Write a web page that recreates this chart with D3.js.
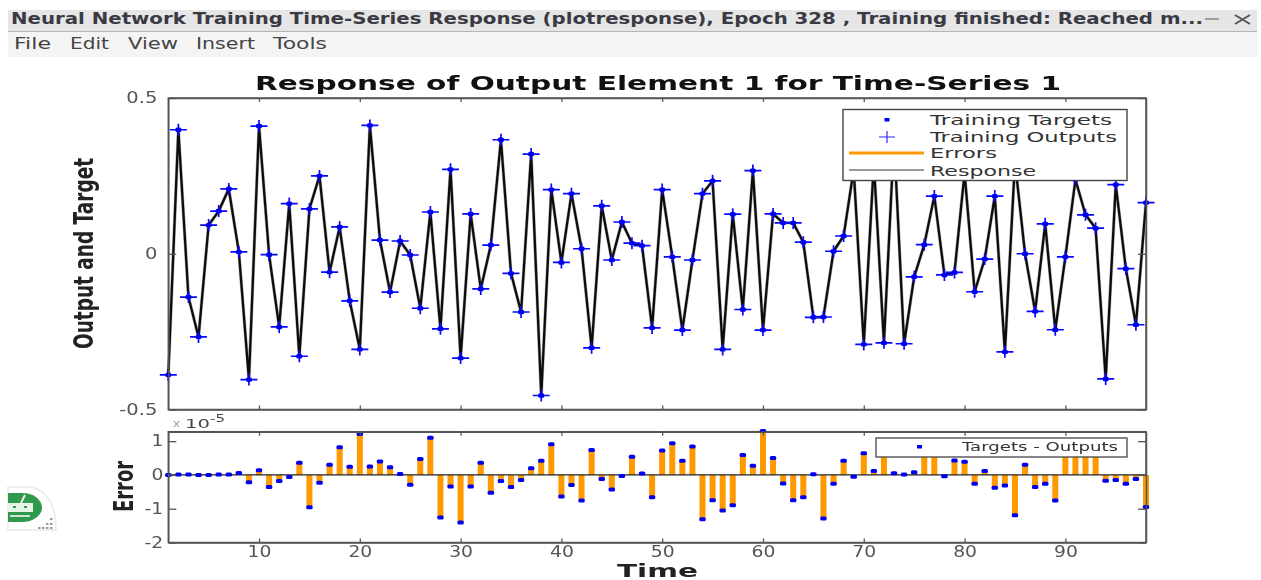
<!DOCTYPE html>
<html>
<head>
<meta charset="utf-8">
<script src="https://cdn.jsdelivr.net/npm/d3@7"></script>
<style>
  html, body { margin: 0; padding: 0; background: #fff; overflow: hidden; }
  svg { display: block; filter: blur(0.5px); }
  text { font-family: "DejaVu Sans", sans-serif; }
</style>
</head>
<body>
<div id="chart"></div>
<script>
// values, time steps 1 to 98
// 69, 71, 73, 80, 85, 91 are behind the legend, so those peaks are estimated
const outputs = [
  -0.389, 0.398, -0.139, -0.267, 0.092, 0.137, 0.208, 0.006, -0.404, 0.41,
  -0.003, -0.235, 0.161, -0.329, 0.144, 0.25, -0.059, 0.086, -0.151, -0.307,
  0.412, 0.044, -0.123, 0.041, -0.004, -0.175, 0.134, -0.241, 0.271, -0.335,
  0.128, -0.113, 0.028, 0.366, -0.063, -0.187, 0.32, -0.455, 0.206, -0.028,
  0.193, 0.016, -0.302, 0.154, -0.02, 0.102, 0.034, 0.026, -0.238, 0.206,
  -0.01, -0.245, -0.02, 0.193, 0.234, -0.307, 0.127, -0.179, 0.267, -0.245,
  0.128, 0.099, 0.099, 0.037, -0.204, -0.203, 0.008, 0.057, 0.27, -0.291,
  0.29, -0.286, 0.37, -0.289, -0.074, 0.029, 0.185, -0.068, -0.06, 0.26,
  -0.122, -0.017, 0.185, -0.315, 0.295, 0, -0.185, 0.096, -0.244, -0.01,
  0.238, 0.125, 0.082, -0.402, 0.222, -0.048, -0.228, 0.164
];
// targets minus outputs, in units of 1e-5
const errors = [
  0, 0.01, 0.01, 0, 0, 0.01, 0.01, 0.06, -0.22, 0.14,
  -0.36, -0.18, -0.06, 0.36, -0.96, -0.23, 0.3, 0.82, 0.24, 1.21,
  0.25, 0.4, 0.23, 0.03, -0.29, 0.47, 1.1, -1.26, -0.34, -1.41,
  -0.34, 0.36, -0.53, -0.18, -0.36, -0.15, 0.2, 0.42, 0.91, -0.64,
  -0.3, -0.76, 0.74, -0.12, -0.43, -0.03, 0.54, 0.04, -0.66, 0.72,
  0.94, 0.42, 0.84, -1.31, -0.75, -1.05, -0.9, 0.59, 0.27, 1.3,
  0.5, -0.25, -0.75, -0.66, 0.02, -1.29, -0.26, 0.42, -0.05, 0.64,
  0.12, 0.75, 0.05, 0.01, 0.08, 0.7, 0.65, -0.04, 0.43, 0.39,
  -0.26, 0.12, -0.38, -0.31, -1.19, 0.3, -0.36, -0.26, -0.76, 0.7,
  0.8, 0.6, 0.75, -0.17, -0.15, -0.26, -0.12, -0.95
];
const time = outputs.map((d, i) => i + 1);
const xTicks = [10, 20, 30, 40, 50, 60, 70, 80, 90];
const upperTicks = [-0.5, 0, 0.5];
const lowerTicks = [-2, -1, 0, 1];
const menuItems = ["File", "Edit", "View", "Insert", "Tools"];

const width = 1261, height = 580;
const svg = d3.select("#chart").append("svg")
  .attr("width", width).attr("height", height);

// stretched text, the screenshot is wider than it is tall
function label(parent, str, x, y, len, size, opts) {
  opts = opts || {};
  return parent.append("text")
    .attr("x", x).attr("y", y)
    .attr("textLength", len).attr("lengthAdjust", "spacingAndGlyphs")
    .attr("font-size", size)
    .attr("font-weight", opts.weight || "normal")
    .attr("font-family", opts.family || null)
    .attr("fill", opts.fill || "#333")
    .text(str);
}

// window chrome
svg.append("rect").attr("x", 8).attr("y", 10).attr("width", 1249).attr("height", 21).attr("fill", "#e6e6e6");
svg.append("rect").attr("x", 8).attr("y", 31).attr("width", 1249).attr("height", 1).attr("fill", "#b5b5b5");
svg.append("rect").attr("x", 8).attr("y", 32).attr("width", 1249).attr("height", 25).attr("fill", "#f4f4f4");
label(svg, "Neural Network Training Time-Series Response (plotresponse), Epoch 328 , Training finished: Reached m...",
  11, 24, 1192, 15, { weight: "bold", family: "'DejaVu Sans'", fill: "#3a3a44" });
svg.append("path").attr("d", "M1205,19H1219").attr("stroke", "#777").attr("stroke-width", 1.3);
svg.append("path").attr("d", "M1235,15L1250,24M1250,15L1235,24").attr("stroke", "#555").attr("stroke-width", 2);

const menuX = [14, 70, 128, 196, 273], menuLen = [37, 39, 50, 59, 54];
menuItems.forEach((m, i) => label(svg, m, menuX[i], 49, menuLen[i], 15, { fill: "#444" }));

// robot badge at the lower left
const badge = svg.append("g");
badge.append("path")
  .attr("d", "M8,487H30Q56,492 56,530H8Z")
  .attr("fill", "#fff").attr("stroke", "#e9e9e9").attr("stroke-width", 1.5);
badge.append("path").attr("d", "M8,493H22A20,14.5 0 0 1 22,522H8Z").attr("fill", "#2f9a4c");
badge.append("path").attr("d", "M21,503L25,495").attr("stroke", "#e8f3ea").attr("stroke-width", 2);
badge.append("rect").attr("x", 8).attr("y", 503).attr("width", 25).attr("height", 9).attr("fill", "#e8f3ea");
badge.append("rect").attr("x", 13).attr("y", 506).attr("width", 3).attr("height", 2).attr("fill", "#2f9a4c");
badge.append("rect").attr("x", 24).attr("y", 506).attr("width", 3).attr("height", 2).attr("fill", "#2f9a4c");
badge.append("rect").attr("x", 10).attr("y", 515).attr("width", 20).attr("height", 2).attr("fill", "#cfe6d5");
[[50, 518], [46, 523], [50, 523], [38, 527], [42, 527], [46, 527], [50, 527]].forEach(p => {
  badge.append("rect").attr("x", p[0]).attr("y", p[1]).attr("width", 2.5).attr("height", 2).attr("fill", "#9a9a9a");
});

// scales
const x = d3.scaleLinear().domain([1, 98]).range([168.3, 1146]);
const yUp = d3.scaleLinear().domain([-0.5, 0.5]).range([409.5, 98]);
const yLo = d3.scaleLinear().domain([-2, 1.28]).range([542.5, 431.7]);
const axisColor = "#555";

function frame(y) {
  const r = y.range();
  svg.append("rect")
    .attr("x", x.range()[0]).attr("y", r[1])
    .attr("width", x.range()[1] - x.range()[0]).attr("height", r[0] - r[1])
    .attr("fill", "#fff").attr("stroke", axisColor).attr("stroke-width", 1.5);
}

function axes(y, yTicks, tickLen, yFmt, showX, stretch) {
  const r = y.range();
  const bottom = svg.append("g").attr("transform", "translate(0," + r[0] + ")")
    .call(d3.axisBottom(x).tickValues(xTicks).tickSizeInner(-tickLen).tickSizeOuter(0).tickPadding(4));
  const top = svg.append("g").attr("transform", "translate(0," + r[1] + ")")
    .call(d3.axisTop(x).tickValues(xTicks).tickSizeInner(-tickLen).tickSizeOuter(0).tickFormat(""));
  const left = svg.append("g").attr("transform", "translate(" + x.range()[0] + ",0)")
    .call(d3.axisLeft(y).tickValues(yTicks).tickSizeInner(-8).tickSizeOuter(0).tickPadding(showX ? 5 : 11).tickFormat(yFmt));
  const right = svg.append("g").attr("transform", "translate(" + x.range()[1] + ",0)")
    .call(d3.axisRight(y).tickValues(yTicks).tickSizeInner(-8).tickSizeOuter(0).tickFormat(""));
  [bottom, top, left, right].forEach(g => {
    g.select(".domain").attr("stroke", axisColor).attr("stroke-width", 1.5);
    g.selectAll(".tick line").attr("stroke", axisColor).attr("stroke-width", 1.3);
    g.selectAll(".tick text").attr("fill", "#555").attr("font-size", 15)
      .attr("font-family", "'DejaVu Sans'");
  });
  if (!showX) bottom.selectAll(".tick text").remove();
  // same stretch as the rest of the screenshot
  svg.selectAll(".tick text").filter(function () { return !this.getAttribute("textLength"); })
    .each(function () {
      const len = this.getComputedTextLength();
      if (len > 0) d3.select(this).attr("lengthAdjust", "spacingAndGlyphs").attr("textLength", len * stretch);
    });
}

// upper panel
frame(yUp);
svg.append("path").datum(outputs)
  .attr("fill", "none").attr("stroke", "#bbb").attr("stroke-width", 3.4)
  .attr("d", d3.line().x((d, i) => x(time[i])).y(d => yUp(d)));
svg.append("path").datum(outputs)
  .attr("fill", "none").attr("stroke", "#0c0c0c").attr("stroke-width", 2.3)
  .attr("d", d3.line().x((d, i) => x(time[i])).y(d => yUp(d)));

const plus = d3.path();
plus.moveTo(-8.5, 0); plus.lineTo(8.5, 0); plus.moveTo(0, -6); plus.lineTo(0, 6);
const pts = svg.append("g").selectAll("g").data(outputs).join("g")
  .attr("transform", (d, i) => "translate(" + x(time[i]) + "," + yUp(d) + ")");
pts.append("path").attr("d", plus.toString()).attr("stroke", "#0808ff").attr("stroke-width", 1.7).attr("fill", "none");
pts.append("rect").attr("x", -3).attr("y", -2.2).attr("width", 6).attr("height", 4.4).attr("rx", 1.5).attr("fill", "#0000f0");

axes(yUp, upperTicks, 4, d => (d === 0 ? "0" : String(d)), false, 1.3);

// upper legend
const lg = svg.append("g");
lg.append("rect").attr("x", 843).attr("y", 109.5).attr("width", 284).attr("height", 71)
  .attr("fill", "#fff").attr("stroke", "#444").attr("stroke-width", 1.4);
lg.append("rect").attr("x", 884.5).attr("y", 118).attr("width", 5).attr("height", 3.5).attr("fill", "#0000f0");
lg.append("path").attr("d", "M879,137H895M887,131V143").attr("stroke", "#2a2aff").attr("stroke-width", 1.2);
lg.append("path").attr("d", "M849,153H924").attr("stroke", "#ff9900").attr("stroke-width", 3);
lg.append("path").attr("d", "M849,170H924").attr("stroke", "#333").attr("stroke-width", 1);
label(lg, "Training Targets", 930, 125, 182, 13.5);
label(lg, "Training Outputs", 930, 142, 187, 13.5);
label(lg, "Errors", 930, 158, 67, 13.5);
label(lg, "Response", 930, 176, 106, 13.5);

// lower panel
frame(yLo);
svg.append("g").selectAll("rect").data(errors).join("rect")
  .attr("x", (d, i) => x(time[i]) - 3)
  .attr("width", 6)
  .attr("y", d => Math.min(yLo(d), yLo(0)))
  .attr("height", d => Math.abs(yLo(d) - yLo(0)))
  .attr("fill", "#ff9900");
svg.append("line")
  .attr("x1", x(1)).attr("x2", x(98)).attr("y1", yLo(0)).attr("y2", yLo(0))
  .attr("stroke", "#222").attr("stroke-width", 1.3);
svg.append("g").selectAll("rect").data(errors).join("rect")
  .attr("x", (d, i) => x(time[i]) - 3.2)
  .attr("y", d => yLo(d) - 2)
  .attr("width", 6.4).attr("height", 4)
  .attr("rx", 1.5)
  .attr("fill", "#0000f0");
axes(yLo, lowerTicks, 4, d => String(d), true, 1.25);

// lower legend
const lg2 = svg.append("g");
lg2.append("rect").attr("x", 876).attr("y", 438).attr("width", 251).attr("height", 19)
  .attr("fill", "#fff").attr("stroke", "#444").attr("stroke-width", 1.3);
lg2.append("rect").attr("x", 917).attr("y", 445).attr("width", 5).attr("height", 3.5).attr("fill", "#0000f0");
label(lg2, "Targets - Outputs", 962, 451, 156, 11.5);

// titles
label(svg, "Response of Output Element 1 for Time-Series 1", 255, 90, 806, 19, { weight: "bold", fill: "#111" });
label(svg, "Time", 617, 577, 81, 18, { weight: "bold", fill: "#222" });
svg.append("text").attr("transform", "translate(93,349) rotate(-90)")
  .attr("textLength", 191).attr("lengthAdjust", "spacingAndGlyphs")
  .attr("font-size", 26).attr("font-weight", "bold").attr("font-family", "'Liberation Sans'")
  .attr("fill", "#222").text("Output and Target");
svg.append("text").attr("transform", "translate(133,512) rotate(-90)")
  .attr("textLength", 51).attr("lengthAdjust", "spacingAndGlyphs")
  .attr("font-size", 26).attr("font-weight", "bold").attr("font-family", "'Liberation Sans'")
  .attr("fill", "#222").text("Error");
label(svg, "×", 172, 428, 9, 12, { fill: "#999" });
label(svg, "10", 185, 428, 25, 13, { fill: "#444" });
label(svg, "-5", 210, 422, 15, 11, { fill: "#444" });
</script>
</body>
</html>
